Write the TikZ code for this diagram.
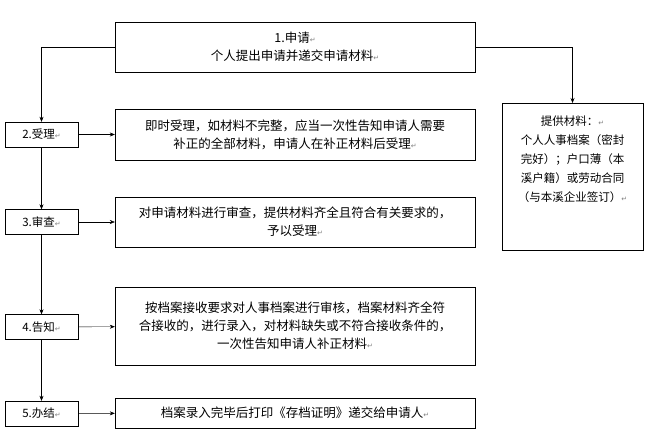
\documentclass[tikz,border=0pt]{standalone}
\usepackage{fontspec}
\setmainfont{Noto Sans CJK SC}
\newfontfamily\markfont{DejaVu Sans}
\usetikzlibrary{arrows.meta,positioning}
\newcommand{\parmark}{{\markfont\color{gray}\scriptsize ↵}}
\tikzstyle{line} = [draw=black, -{Stealth[length=5pt,width=4pt]}]
\tikzstyle{stepbox} = [rectangle, draw=black, minimum width=73pt, minimum height=25pt, font=\fontsize{11.5}{13}\selectfont]
\tikzstyle{textbox} = [rectangle, draw=black, minimum width=360pt, align=center, font=\fontsize{12.5}{18}\selectfont]
\begin{document}
\begin{tikzpicture}[x=1pt,y=-1pt]
\useasboundingbox (0,0) rectangle (653,443);
% top request box
\node[textbox, minimum height=50pt] (apply) at (295,47) {1.申请\parmark\\个人提出申请并递交申请材料\parmark};

% materials box
\node[rectangle, draw=black, minimum width=141pt, minimum height=147pt, align=center, anchor=north, inner ysep=7pt, font=\fontsize{11.5}{19}\selectfont] (mat) at (572.5,103) {提供材料：\parmark\\个人人事档案（密封\\完好）；户口薄（本\\溪户籍）或劳动合同\\（与本溪企业签订）\parmark\\[18pt]};

% steps on the left
\node[stepbox] (s2) at (41.5,134.5) {2.受理\parmark};
\node[stepbox] (s3) at (41.5,222) {3.审查\parmark};
\node[stepbox] (s4) at (41.5,327) {4.告知\parmark};
\node[stepbox] (s5) at (41.5,413.5) {5.办结\parmark};

% descriptions
\node[textbox, minimum height=51pt] (d2) at (295,134.5) {即时受理，如材料不完整，应当一次性告知申请人需要\\补正的全部材料，申请人在补正材料后受理\parmark};
\node[textbox, minimum height=50pt] (d3) at (295,222) {对申请材料进行审查，提供材料齐全且符合有关要求的，\\予以受理\parmark};
\node[textbox, minimum height=78pt] (d4) at (295,326) {按档案接收要求对人事档案进行审核，档案材料齐全符\\合接收的，进行录入，对材料缺失或不符合接收条件的，\\一次性告知申请人补正材料\parmark};
\node[textbox, minimum height=30pt] (d5) at (295,413) {档案录入完毕后打印《存档证明》递交给申请人\parmark};

% connectors
\draw[line] (apply.west) -| (s2.north);
\draw[line] (apply.east) -| (mat.north);
\draw[line] (s2) -- (s3);
\draw[line] (s3) -- (s4);
\draw[line] (s4) -- (s5);
\draw[line] (s2) -- (d2);
\draw[line] (s3) -- (d3);
\draw[line] (s4) -- (d4);
\draw[line] (s5) -- (d5);
\end{tikzpicture}
\end{document}
